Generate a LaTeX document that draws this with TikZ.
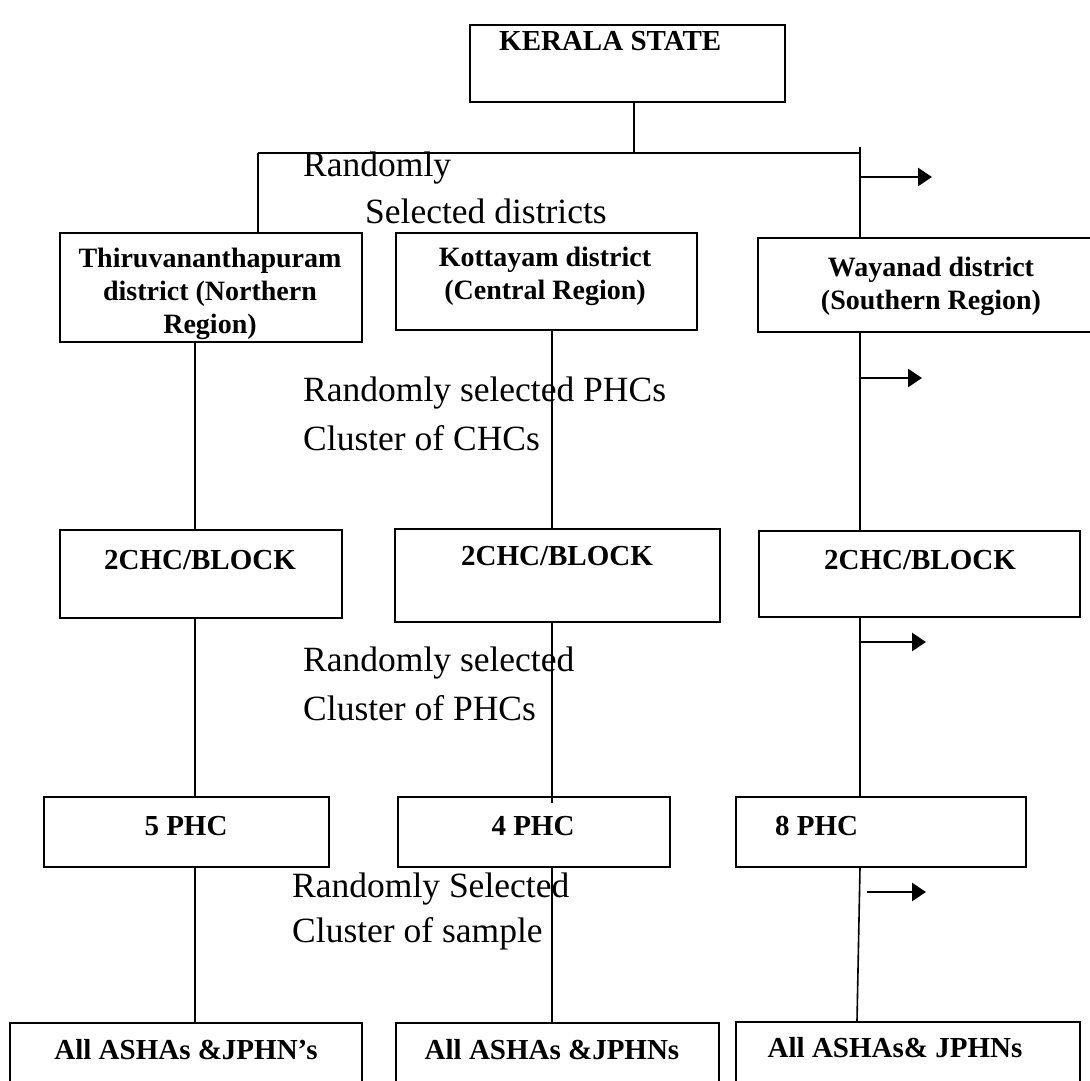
\documentclass[tikz,border=0pt]{standalone}
\usepackage{fontspec}
\setmainfont{Liberation Serif}
\usetikzlibrary{arrows.meta}
\begin{document}
\begin{tikzpicture}[x=1pt,y=-1pt,
  box/.style={draw, line width=2pt, inner sep=0pt},
  btxt/.style={inner sep=0pt, align=center, font=\fontsize{29}{33}\selectfont\bfseries},
  lbl/.style={inner sep=0pt, anchor=west, font=\fontsize{35.5}{40}\selectfont},
  conn/.style={line width=1.6pt},
  arr/.style={line width=2.8pt, -{Triangle[length=14pt,width=18pt]}}]
\useasboundingbox[fill=white] (0,0) rectangle (1090,1081);
% boxes
\node[box, minimum width=315pt, minimum height=77pt] (K) at (627.5,63.5) {};
\node[box, minimum width=302pt, minimum height=109pt] (T) at (211,287.5) {};
\node[box, minimum width=301pt, minimum height=97pt] (Ko) at (546.5,281.5) {};
\node[box, minimum width=340pt, minimum height=94pt] (W) at (928,285) {};
\node[box, minimum width=282pt, minimum height=88pt] (C1) at (201,574) {};
\node[box, minimum width=325pt, minimum height=93pt] (C2) at (557.5,575.5) {};
\node[box, minimum width=321pt, minimum height=86pt] (C3) at (919.5,574) {};
\node[box, minimum width=285pt, minimum height=70pt] (P1) at (186.5,832) {};
\node[box, minimum width=272pt, minimum height=70pt] (P2) at (534,832) {};
\node[box, minimum width=290pt, minimum height=70pt] (P3) at (881,832) {};
\node[box, minimum width=352pt, minimum height=76pt] (A1) at (186,1061) {};
\node[box, minimum width=323pt, minimum height=76pt] (A2) at (557,1061) {};
\node[box, minimum width=344pt, minimum height=78pt] (A3) at (908,1061) {};
% box texts
\node[btxt, anchor=west] (Kt) at (499,41) {KERALA STATE};
\node[btxt, font=\fontsize{28}{33}\selectfont\bfseries] (Tt) at (210,294) {Thiruvananthapuram\\district (Northern\\Region)};
\node[btxt, font=\fontsize{28}{33}\selectfont\bfseries] (Kot) at (545,276) {Kottayam district\\(Central Region)};
\node[btxt, font=\fontsize{28}{33}\selectfont\bfseries] (Wt) at (931,286) {Wayanad district\\(Southern Region)};
\node[btxt] (C1t) at (200,560) {2CHC/BLOCK};
\node[btxt] (C2t) at (557,556) {2CHC/BLOCK};
\node[btxt] (C3t) at (920,560) {2CHC/BLOCK};
\node[btxt] (P1t) at (186,826) {5 PHC};
\node[btxt] (P2t) at (533,826) {4 PHC};
\node[btxt, anchor=west] (P3t) at (775,826) {8 PHC};
\node[btxt] (A1t) at (186,1050) {All ASHAs \&JPHN’s};
\node[btxt] (A2t) at (552,1050) {All ASHAs \&JPHNs};
\node[btxt] (A3t) at (895,1048) {All ASHAs\& JPHNs};
% labels
\node[lbl] (l1) at (303,168) {Randomly};
\node[lbl] (l2) at (365,211) {Selected districts};
\node[lbl] (l3) at (303,393) {Randomly selected PHCs};
\node[lbl] (l4) at (303,438) {Cluster of CHCs};
\node[lbl] (l5) at (303,663) {Randomly selected};
\node[lbl] (l6) at (303,708) {Cluster of PHCs};
\node[lbl] (l7) at (292,889) {Randomly Selected};
\node[lbl] (l8) at (292,934) {Cluster of sample};
% column coordinates
\coordinate (xL) at (195,0);
\coordinate (xM) at (552,0);
\coordinate (xR) at (860,0);
\coordinate (busL) at (258,153);
\coordinate (busR) at (860,153);
\coordinate (busK) at (634,153);
% connectors
\draw[conn] (busK |- K.south) -- (busK);
\draw[conn, line width=2pt] (busL) -- (busR);
\draw[conn] (busL) -- (busL |- T.north);
\draw[conn] ([yshift=6pt]busR) -- (busR |- W.north);
\draw[conn] (xL |- T.south) -- (xL |- C1.north);
\draw[conn] (xM |- Ko.south) -- (xM |- C2.north);
\draw[conn] (xR |- W.south) -- (xR |- C3.north);
\draw[conn] (xL |- C1.south) -- (xL |- P1.north);
\draw[conn] (xM |- C2.south) -- ([yshift=-7pt]xM |- P2.north);
\draw[conn] (xR |- C3.south) -- (xR |- P3.north);
\draw[conn] (xL |- P1.south) -- (xL |- A1.north);
\draw[conn] (xM |- P2.south) -- (xM |- A2.north);
\draw[conn] (xR |- P3.south) -- ([xshift=-3pt]xR |- A3.north);
% arrows
\coordinate (a1) at (860,177);
\coordinate (a2) at (860,378);
\coordinate (a3) at (860,642);
\coordinate (a4) at (867,892);
\draw[arr] (a1) -- ++(72,0);
\draw[arr] (a2) -- ++(62,0);
\draw[arr] (a3) -- ++(66,0);
\draw[arr] (a4) -- ++(59,0);
\end{tikzpicture}
\end{document}
